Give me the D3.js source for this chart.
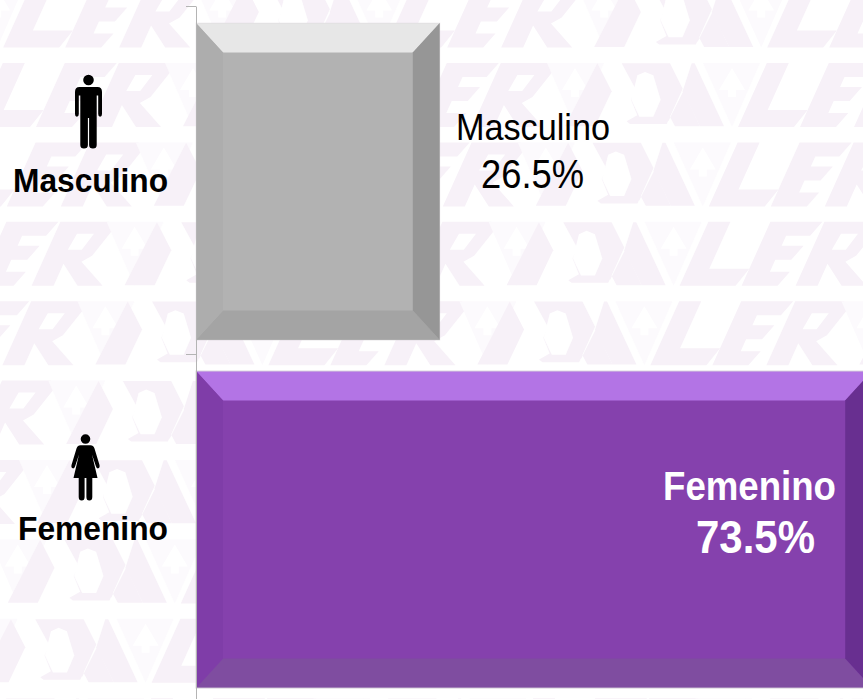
<!DOCTYPE html>
<html>
<head>
<meta charset="utf-8">
<script src="https://cdn.jsdelivr.net/npm/d3@7"></script>
<style>
html,body{margin:0;padding:0;background:#fff;overflow:hidden}
svg{display:block}
text{font-family:"Liberation Sans",Arial,sans-serif}
</style>
</head>
<body>
<svg id="chart" width="863" height="699"></svg>
<script>
const categories = ["Masculino", "Femenino"];
const values = [26.5, 73.5];
const palettes = [
  {face:"#b2b2b2", top:"#e7e7e7", left:"#adadad", right:"#969696", bottom:"#a4a4a4"},
  {face:"#8541ad", top:"#b374e5", left:"#7f3da8", right:"#682f90", bottom:"#7f4da0"}
];

const svg = d3.select("#chart");
const W = 863, H = 699;

/* ---------- watermark ---------- */
const pale = "#f7f1f8", paler = "#fcfafd";
const sk = (u, t) => [u + 0.45 * (64 - t), t];
const zz = (x, y) => [x / 3 - 178, y / 3 - 5];
const poly = pts => pts.map(p => p.join(",")).join(" ");
const wmPale = [
  [sk(0,0),sk(22,0),sk(22,47),sk(62,47),sk(56,64),sk(0,64)],
  [sk(62,0),sk(114,0),sk(108,14),sk(84,14),sk(84,24),sk(106,24),sk(100,38),sk(84,38),sk(84,50),sk(104,50),sk(98,64),sk(62,64)],
  [sk(116,0),sk(165,0),sk(172,8),sk(163,34),sk(155,40),sk(187,64),sk(162,64),sk(138,42),sk(138,64),sk(116,64)],
  [zz(15,205),zz(105,205),zz(155,100),zz(112,16)],
  [zz(185,16),zz(330,16),zz(368,92),zz(320,198),zz(210,198),zz(200,190),zz(232,172),zz(213,125),zz(228,95)],
  [zz(395,16),zz(404,16),zz(492,205),zz(420,205),zz(368,100)],
  [zz(305,130),zz(345,205),zz(420,205),zz(370,100),zz(325,190)]
];
const wmPaler = [
  [[-35,0],[22,0],[-6,64]],
  [[-191,0],[-134,0],[-163,64]]
];
const wmWhite = [
  [sk(138,12),sk(155,12),sk(150,28),sk(136,28)],
  [zz(255,42),zz(280,52),zz(302,125),zz(280,176),zz(238,176),zz(214,125),zz(232,52)],
  [[-6,5],[-19,27],[-10,27],[-10,34],[-2,34],[-2,27],[7,27]],
  [[-163,5],[-176,27],[-167,27],[-167,34],[-159,34],[-159,27],[-150,27]]
];
const rows = d3.range(1, 11);
const wm = svg.append("g").attr("class", "watermark");
rows.forEach(r => {
  const top = 63 + 79.4 * (r - 2);
  const base = 738 - 29.2 * (r - 2);
  const first = base - 382 * Math.ceil((base + 300) / 382);
  for (let x = first; x < W + 300; x += 382) {
    const g = wm.append("g").attr("transform", `translate(${x},${top})`);
    g.selectAll(".a").data(wmPaler).join("polygon").attr("class","a").attr("points", poly).attr("fill", paler);
    g.selectAll(".b").data(wmWhite.slice(2)).join("polygon").attr("class","b").attr("points", poly).attr("fill", "#fff");
    g.selectAll(".c").data(wmPale).join("polygon").attr("class","c").attr("points", poly).attr("fill", pale);
    g.selectAll(".d").data(wmWhite.slice(0,2)).join("polygon").attr("class","d").attr("points", poly).attr("fill", "#fff");
  }
});

/* ---------- scales ---------- */
const x = d3.scaleLinear().domain([0, 100]).range([196, 1116]);
const y = d3.scaleBand().domain(categories).range([6, 702])
  .paddingInner(31 / 348).paddingOuter(31 / 696).align(0.55);

/* ---------- bars with bevel ---------- */
const bevelX = 27, bevelY = 29.5;
const bars = svg.append("g").selectAll("g").data(categories).join("g");
bars.each(function(c, i) {
  const g = d3.select(this);
  const x0 = x(0), x1 = x(values[i]), y0 = y(c), y1 = y0 + y.bandwidth();
  const p = palettes[i];
  const ix0 = x0 + bevelX, ix1 = x1 - bevelX, iy0 = y0 + bevelY, iy1 = y1 - bevelY;
  g.append("rect").attr("x", x0).attr("y", y0).attr("width", x1 - x0).attr("height", y1 - y0).attr("fill", p.face);
  g.append("polygon").attr("fill", p.top).attr("points", poly([[x0,y0],[x1,y0],[ix1,iy0],[ix0,iy0]]));
  g.append("polygon").attr("fill", p.bottom).attr("points", poly([[x0,y1],[x1,y1],[ix1,iy1],[ix0,iy1]]));
  g.append("polygon").attr("fill", p.left).attr("points", poly([[x0,y0],[ix0,iy0],[ix0,iy1],[x0,y1]]));
  g.append("polygon").attr("fill", p.right).attr("points", poly([[x1,y0],[ix1,iy0],[ix1,iy1],[x1,y1]]));
  g.append("rect").attr("x", x0).attr("y", y0).attr("width", x1 - x0).attr("height", y1 - y0)
    .attr("fill", "none").attr("stroke", "#d6d2d8").attr("stroke-width", 1).attr("stroke-opacity", i ? 0.9 : 0.35);
});

/* ---------- axis ---------- */
const tickScale = d3.scalePoint().domain(d3.range(categories.length + 1)).range([6, 702]);
const axis = svg.append("g").attr("transform", `translate(${x(0)},0)`)
  .call(d3.axisLeft(tickScale).tickSize(10).tickSizeOuter(0).tickFormat(""));
axis.selectAll("path,line").attr("stroke", "#b4b4b4").attr("stroke-width", 1);

/* ---------- category labels ---------- */
svg.append("g").selectAll("text").data(categories).join("text")
  .attr("x", 168)
  .attr("y", d => y(d) + 169)
  .attr("text-anchor", "end").attr("font-weight", "bold").attr("font-size", 33).attr("fill", "#000")
  .attr("textLength", (d, i) => [155, 150][i]).attr("lengthAdjust", "spacingAndGlyphs")
  .text(d => d);

/* ---------- icons ---------- */
const man = "M-5.3 0a5.3 5.3 0 1 0 10.6 0a5.3 5.3 0 1 0 -10.6 0Z" +
  "M-9 7H9Q13.5 7 13.5 12V34Q13.5 36.6 11.6 36.6Q9.7 36.6 9.7 34V15.5H8.2V65Q8.2 68.5 4.5 68.5Q.6 68.5 .6 65V38H-.6V65Q-.6 68.5 -4.5 68.5Q-8.2 68.5 -8.2 65V15.5H-9.7V34Q-9.7 36.6 -11.6 36.6Q-13.5 36.6 -13.5 34V12Q-13.5 7 -9 7Z";
const woman = "M-4.8 0a4.8 4.8 0 1 0 9.6 0a4.8 4.8 0 1 0 -9.6 0Z" +
  "M-5 6.2H5Q7.8 6.2 9 9.5L14 26Q14.6 29 12.6 29.3Q11 29.6 10.3 27L6.5 15.5L12 39H6.8V58Q6.8 61.5 3.8 61.5Q.9 61.5 .9 58V39H-.9V58Q-.9 61.5 -3.8 61.5Q-6.8 61.5 -6.8 58V39H-12L-6.5 15.5L-10.3 27Q-11 29.6 -12.6 29.3Q-14.6 29 -14 26L-9 9.5Q-7.8 6.2 -5 6.2Z";
svg.append("path").attr("d", man).attr("transform", `translate(88.5,${y("Masculino") + 57})`).attr("fill", "#000");
svg.append("path").attr("d", woman).attr("transform", `translate(85.5,${y("Femenino") + 68})`).attr("fill", "#000");

/* ---------- data labels ---------- */
const labelStyles = [
  {x1:456, y1:140, x2:481, y2:188, fs1:37, fs2:40, w:"normal", c:"#000", l1:154, l2:103},
  {x1:663, y1:500, x2:696, y2:553, fs1:40, fs2:47, w:"bold", c:"#fff", l1:173, l2:119}
];
categories.forEach((c, i) => {
  const s = labelStyles[i];
  svg.append("text").attr("x", s.x1).attr("y", s.y1).attr("font-size", s.fs1).attr("font-weight", s.w).attr("fill", s.c)
    .attr("textLength", s.l1).attr("lengthAdjust", "spacingAndGlyphs").text(c);
  svg.append("text").attr("x", s.x2).attr("y", s.y2).attr("font-size", s.fs2).attr("font-weight", s.w).attr("fill", s.c)
    .attr("textLength", s.l2).attr("lengthAdjust", "spacingAndGlyphs").text(d3.format(".1f")(values[i]) + "%");
});
</script>
</body>
</html>
